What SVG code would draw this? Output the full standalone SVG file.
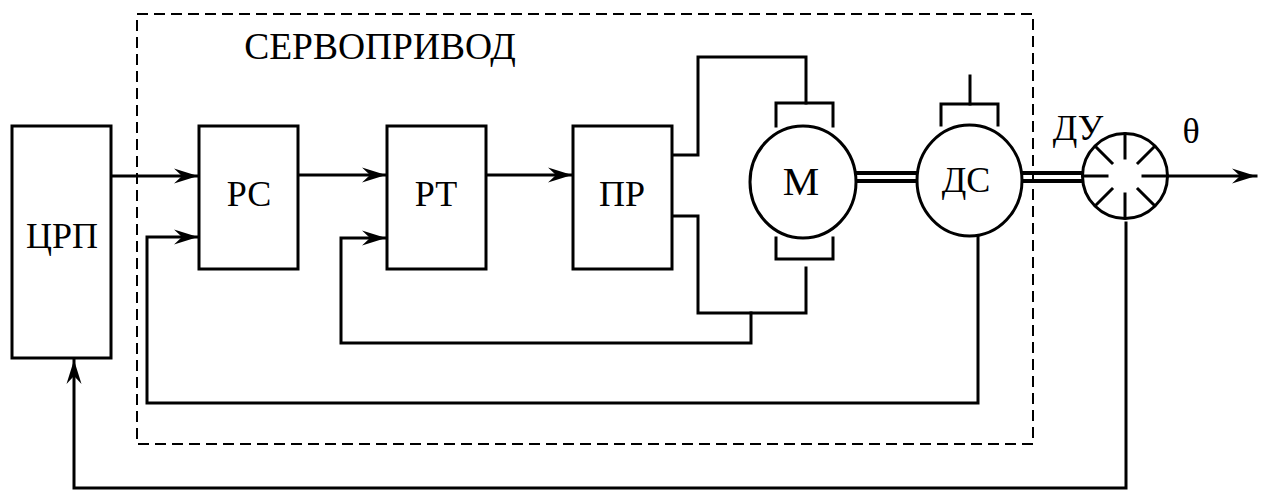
<svg xmlns="http://www.w3.org/2000/svg" width="1265" height="499" viewBox="0 0 1265 499">
<style>
.ln{fill:none;stroke:#000;stroke-width:3;stroke-linecap:square}
.bx{fill:#fff;stroke:#000;stroke-width:3}
.sh{fill:none;stroke:#000;stroke-width:4}
.dash{fill:none;stroke:#000;stroke-width:2;stroke-dasharray:11,6}
.t{font-family:"Liberation Serif","Times New Roman",serif;font-size:36px;fill:#000;text-anchor:middle}
</style>
<defs>
<marker id="arr" markerUnits="userSpaceOnUse" markerWidth="30" markerHeight="20" viewBox="-26 -10 30 20" refX="0" refY="0" orient="auto">
<path d="M0,0 L-24,-7.5 L-16,0 L-24,7.5 Z" fill="#000"/>
</marker>
</defs>
<rect class="dash" x="137" y="14" width="896" height="430"/>
<text class="t" x="380" y="59" style="font-size:37.5px">СЕРВОПРИВОД</text>
<g id="connectors">
<path class="ln" d="M111,176 H198" marker-end="url(#arr)"/>
<path class="ln" d="M298,175 H386" marker-end="url(#arr)"/>
<path class="ln" d="M486,175 H572" marker-end="url(#arr)"/>
<path class="ln" d="M978,236 V403 H147 V237 H198" marker-end="url(#arr)"/>
<path class="ln" d="M751,313 V343 H341 V238 H386" marker-end="url(#arr)"/>
<path class="ln" d="M672,155 H698 V57 H806 V103"/>
<path class="ln" d="M672,216 H698 V313 H806 V268"/>
<path class="ln" d="M970,76 V104"/>
<path class="ln" d="M1126,223 V488 H74 V360" marker-end="url(#arr)"/>
<path class="ln" d="M1169,176 H1256" marker-end="url(#arr)"/>
<path class="sh" d="M855,173 H918 M855,181 H918"/>
<path class="sh" d="M1021,173 H1084 M1021,181 H1084"/>
</g>
<g id="crp"><rect class="bx" x="12" y="126" width="99" height="232"/><text class="t" x="62" y="248">ЦРП</text></g>
<g id="rs"><rect class="bx" x="199" y="126" width="99" height="143"/><text class="t" x="249" y="206">РС</text></g>
<g id="rt"><rect class="bx" x="387" y="126" width="99" height="143"/><text class="t" x="436" y="206">РТ</text></g>
<g id="pr"><rect class="bx" x="573" y="126" width="99" height="143"/><text class="t" x="622" y="206">ПР</text></g>
<g id="motor">
<path class="ln" d="M776,126 V103 H833 V126"/>
<path class="ln" d="M776,238 V259 H833 V238"/>
<ellipse class="bx" cx="803" cy="182" rx="53" ry="56"/>
<text class="t" x="801" y="195" style="font-size:41px">М</text>
</g>
<g id="ds">
<path class="ln" d="M941,125 V104 H998 V125"/>
<ellipse class="bx" cx="969.5" cy="180.5" rx="52.5" ry="55.5"/>
<text class="t" x="966" y="192">ДС</text>
</g>
<g id="du">
<circle class="bx" cx="1125" cy="176" r="42.5"/>
<path class="ln" stroke-linecap="butt" d="M1083,176 H1107 M1167,176 H1143 M1125,134 V158 M1125,218 V194 M1096,147 L1112,163 M1154,147 L1138,163 M1096,205 L1112,189 M1154,205 L1138,189"/>
<text class="t" x="1078" y="140">ДУ</text>
<text class="t" x="1191" y="143">θ</text>
</g>
</svg>
